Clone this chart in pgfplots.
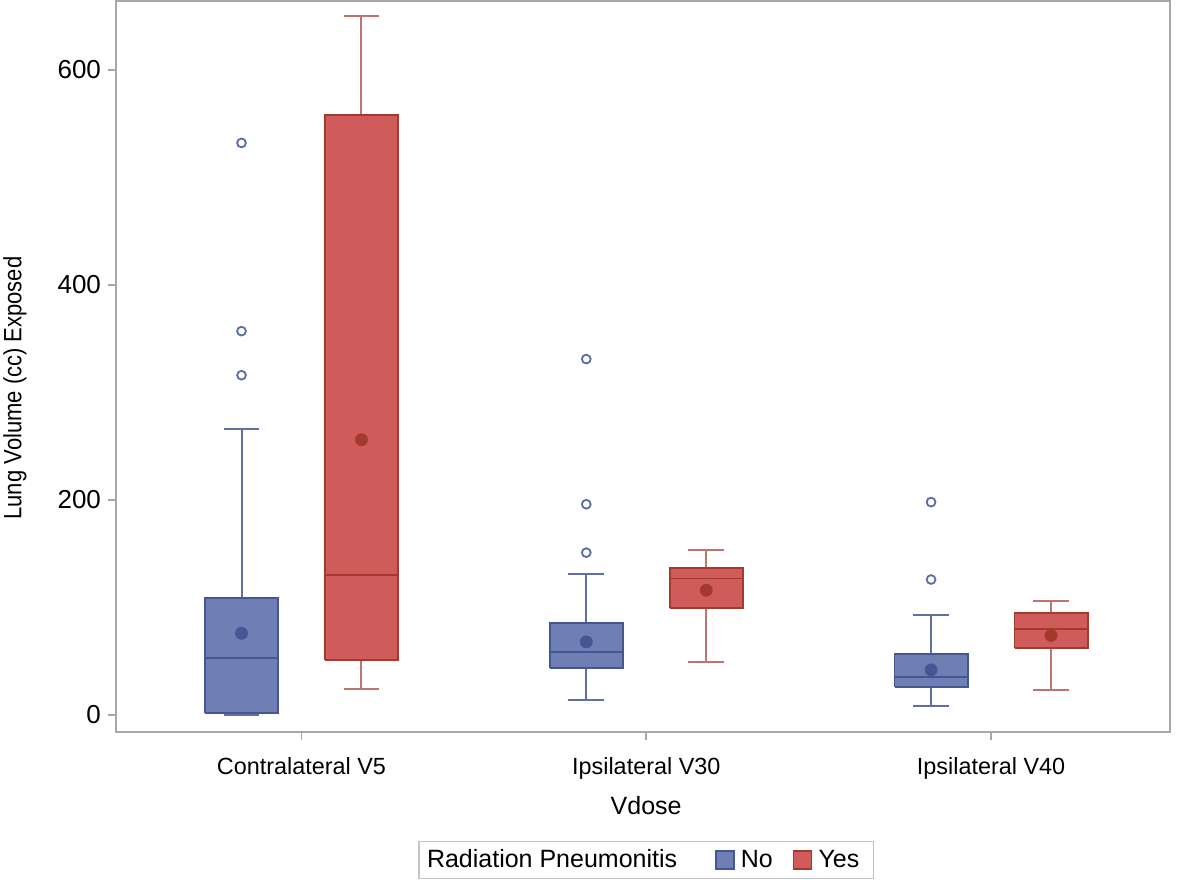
\documentclass[border=0pt]{standalone}
\usepackage{fontspec}
\setmainfont{Liberation Sans}
\usepackage{graphicx}
\usepackage{pgfplots}
\pgfplotsset{compat=1.18}

\definecolor{nofill}{HTML}{6F7EB3}
\definecolor{noline}{HTML}{445694}
\definecolor{yesfill}{HTML}{D05B5B}
\definecolor{yesline}{HTML}{A23A2E}
\definecolor{axgray}{HTML}{A4A8AD}
\definecolor{outl}{HTML}{5A6BAA}

\begin{document}
\begin{tikzpicture}[font=\fontsize{12.5}{14}\selectfont]
\path[use as bounding box] (-58pt,-73.5pt) rectangle (532.5pt,366pt);
\begin{axis}[
  at={(0,0)}, anchor=south west,
  scale only axis,
  width=527pt, height=365.5pt,
  xmin=-0.538, xmax=2.519,
  ymin=-15.8, ymax=664,
  xtick={0,1,2},
  xticklabels={Contralateral V5,Ipsilateral V30,Ipsilateral V40},
  ytick={0,200,400,600},
  tick pos=left,
  tick align=outside,
  major tick length=4pt,
  axis line style={axgray, line width=0.8pt},
  major tick style={axgray, line width=0.8pt},
  /pgf/number format/assume math mode=true,
  xticklabel style={font=\fontsize{11.7}{14}\selectfont, yshift=-5pt},
  yticklabel style={font=\fontsize{13}{15}\selectfont},
  xlabel={Vdose},
  ylabel={\scalebox{0.88}[1]{Lung Volume (cc) Exposed}},
  xlabel style={at={(axis description cs:0.503,-0.1)}, anchor=center},
  ylabel style={at={(axis description cs:-0.0958,0.4706)}, anchor=center},
  unbounded coords=jump,
  legend columns=-1,
  legend style={at={(axis description cs:0.503,-0.175)}, anchor=center,
    draw=axgray!70, line width=0.6pt, inner sep=2pt},
  legend image code/.code={\draw[#1] (0pt,-4.5pt) rectangle (9pt,4.5pt);
    \pgfpathmoveto{\pgfqpoint{10.5pt}{0pt}}\pgfusepath{discard}},
]
% ===== No (blue) =====
% whiskers and caps
\addplot[forget plot, draw=noline!85, line width=1pt] coordinates {
  (-0.174,109) (-0.174,266) (nan,nan) (-0.226,266) (-0.122,266) (nan,nan)
  (-0.174,2) (-0.174,0) (nan,nan) (-0.226,0) (-0.122,0) (nan,nan)
  (0.826,85.5) (0.826,131) (nan,nan) (0.774,131) (0.878,131) (nan,nan)
  (0.826,44) (0.826,14) (nan,nan) (0.774,14) (0.878,14) (nan,nan)
  (1.826,57) (1.826,93) (nan,nan) (1.774,93) (1.878,93) (nan,nan)
  (1.826,26) (1.826,8.5) (nan,nan) (1.774,8.5) (1.878,8.5)};
% boxes
\addplot[forget plot, fill=nofill, draw=noline, line width=0.9pt]
  coordinates {(-0.28,2) (-0.068,2) (-0.068,109) (-0.28,109) (-0.28,2)};
\addplot[forget plot, fill=nofill, draw=noline, line width=0.9pt]
  coordinates {(0.72,44) (0.932,44) (0.932,85.5) (0.72,85.5) (0.72,44)};
\addplot[forget plot, fill=nofill, draw=noline, line width=0.9pt]
  coordinates {(1.72,26) (1.932,26) (1.932,57) (1.72,57) (1.72,26)};
% medians
\addplot[forget plot, draw=noline, line width=0.9pt] coordinates {
  (-0.28,53) (-0.068,53) (nan,nan) (0.72,58.5) (0.932,58.5) (nan,nan)
  (1.72,35.5) (1.932,35.5)};
% outliers
\addplot[forget plot, only marks, mark=o, mark size=2.2pt,
  mark options={draw=outl, line width=0.9pt}] coordinates {
  (-0.174,532) (-0.174,357) (-0.174,316)
  (0.826,331) (0.826,196) (0.826,151)
  (1.826,198) (1.826,126)};
% means
\addplot[forget plot, only marks, mark=*, mark size=3pt, color=noline]
  coordinates {(-0.174,76) (0.826,68) (1.826,42)};

% ===== Yes (red) =====
\addplot[forget plot, draw=yesline!70, line width=1pt] coordinates {
  (0.174,558) (0.174,650) (nan,nan) (0.122,650) (0.226,650) (nan,nan)
  (0.174,51) (0.174,24) (nan,nan) (0.122,24) (0.226,24) (nan,nan)
  (1.174,137) (1.174,153) (nan,nan) (1.122,153) (1.226,153) (nan,nan)
  (1.174,99.5) (1.174,49) (nan,nan) (1.122,49) (1.226,49) (nan,nan)
  (2.174,95) (2.174,106) (nan,nan) (2.122,106) (2.226,106) (nan,nan)
  (2.174,62) (2.174,23) (nan,nan) (2.122,23) (2.226,23)};
\addplot[forget plot, fill=yesfill, draw=yesline, line width=0.9pt]
  coordinates {(0.068,51) (0.28,51) (0.28,558) (0.068,558) (0.068,51)};
\addplot[forget plot, fill=yesfill, draw=yesline, line width=0.9pt]
  coordinates {(1.068,99.5) (1.28,99.5) (1.28,137) (1.068,137) (1.068,99.5)};
\addplot[forget plot, fill=yesfill, draw=yesline, line width=0.9pt]
  coordinates {(2.068,62) (2.28,62) (2.28,95) (2.068,95) (2.068,62)};
\addplot[forget plot, draw=yesline, line width=0.9pt] coordinates {
  (0.068,130) (0.28,130) (nan,nan) (1.068,127) (1.28,127) (nan,nan)
  (2.068,80) (2.28,80)};
\addplot[forget plot, only marks, mark=*, mark size=3pt, color=yesline]
  coordinates {(0.174,256) (1.174,116) (2.174,74)};

% ===== legend =====
\addlegendimage{empty legend}
\addlegendentry{Radiation Pneumonitis\hspace*{17pt}\mbox{}}
\addlegendimage{fill=nofill, draw=noline, line width=0.7pt}
\addlegendentry{No\hspace*{8pt}\mbox{}}
\addlegendimage{fill=yesfill, draw=yesline, line width=0.7pt}
\addlegendentry{Yes\hspace*{3pt}\mbox{}}
\end{axis}
\end{tikzpicture}
\end{document}
